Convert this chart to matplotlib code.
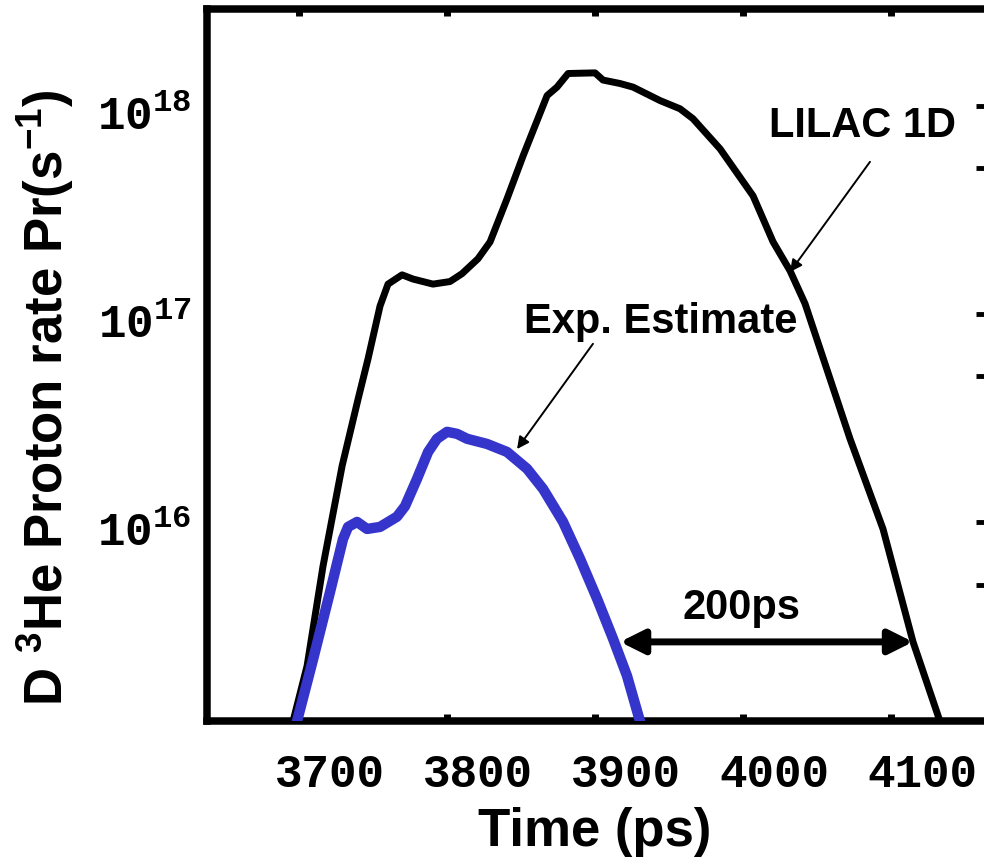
import matplotlib
matplotlib.use("Agg")
import matplotlib.pyplot as plt
import matplotlib.transforms as mtransforms
from matplotlib.ticker import FixedLocator, FixedFormatter, NullFormatter

# LILAC 1D simulated D-3He proton rate
lilac_t = [3695.9, 3705.4, 3716.2, 3729.1, 3739.9, 3746.6, 3754.7, 3760.1,
           3769.6, 3777.0, 3790.5, 3802.0, 3810.1, 3820.9, 3829.1, 3840.5,
           3851.4, 3860.8, 3867.6, 3874.3, 3881.8, 3900.0, 3905.4, 3916.9,
           3925.7, 3943.9, 3957.4, 3966.2, 3984.5, 4006.8, 4020.3, 4031.8,
           4041.9, 4072.3, 4094.6, 4114.9, 4133.1]
lilac_rate = [1.10e15, 2.03e15, 6.14e15, 1.86e16, 3.90e16, 6.08e16, 1.09e17, 1.39e17,
              1.54e17, 1.47e17, 1.39e17, 1.43e17, 1.56e17, 1.84e17, 2.22e17, 3.57e17,
              5.75e17, 8.47e17, 1.12e18, 1.23e18, 1.43e18, 1.44e18, 1.33e18, 1.28e18,
              1.23e18, 1.06e18, 9.68e17, 8.67e17, 6.21e17, 3.69e17, 2.22e17, 1.61e17,
              1.12e17, 2.51e16, 9.25e15, 2.65e15, 1.10e15]

# experimental estimate
exp_t = [3698.6, 3709.5, 3720.9, 3729.7, 3733.1, 3739.2, 3745.9, 3754.7,
         3766.2, 3771.6, 3779.7, 3787.2, 3793.2, 3800.0, 3806.8, 3813.5,
         3827.0, 3840.5, 3854.1, 3864.9, 3878.4, 3889.9, 3901.4, 3912.2,
         3921.6, 3930.4]
exp_rate = [1.10e15, 2.19e15, 4.60e15, 8.28e15, 9.46e15, 1.00e16, 9.25e15, 9.46e15,
            1.06e16, 1.19e16, 1.61e16, 2.17e16, 2.51e16, 2.71e16, 2.65e16, 2.51e16,
            2.37e16, 2.17e16, 1.80e16, 1.44e16, 1.00e16, 6.64e15, 4.27e15, 2.74e15,
            1.82e15, 1.10e15]

xticks = [3700, 3800, 3900, 4000, 4100]
xticklabels = ["3700", "3800", "3900", "4000", "4100"]
yticks = [1e16, 1e17, 1e18]
yticklabels = [r"$\mathregular{10^{16}}$", r"$\mathregular{10^{17}}$", r"$\mathregular{10^{18}}$"]
yminor = [5e15, 5e16, 5e17]

plt.rcParams["font.family"] = ["Liberation Sans", "DejaVu Sans"]
plt.rcParams["font.weight"] = "bold"

fig = plt.figure(figsize=(9.84, 8.62), dpi=100)
ax = fig.add_axes([0.2104, 0.1624, 0.8008, 0.826])

ax.plot(lilac_t, lilac_rate, color="black", lw=5, solid_joinstyle="round", zorder=3)
ax.plot(exp_t, exp_rate, color="#3535CC", lw=7.5, solid_joinstyle="round", zorder=4)

ax.set_yscale("log")
ax.set_xlim(3637.8, 4170.3)
ax.set_ylim(1.104e15, 2.92e18)

for sp in ax.spines.values():
    sp.set_linewidth(5.4)

ax.xaxis.set_major_locator(FixedLocator(xticks))
ax.xaxis.set_major_formatter(FixedFormatter(xticklabels))
ax.yaxis.set_major_locator(FixedLocator(yticks))
ax.yaxis.set_major_formatter(FixedFormatter(yticklabels))
ax.yaxis.set_minor_locator(FixedLocator(yminor))
ax.yaxis.set_minor_formatter(NullFormatter())
ax.xaxis.set_minor_locator(FixedLocator([]))

ax.tick_params(axis="x", which="major", direction="in", top=True, bottom=True,
               length=5, width=5, labelsize=33, pad=22)
ax.tick_params(axis="y", which="both", direction="in", left=False, right=True,
               length=14, width=3.5, labelsize=33, pad=11)

# the printed x labels sit a little right of their tick marks
xoff = mtransforms.ScaledTranslation(0.31, 0, fig.dpi_scale_trans)
for lab in ax.get_xticklabels():
    lab.set_fontfamily("Liberation Mono")
    lab.set_fontweight("bold")
    lab.set_transform(lab.get_transform() + xoff)
yoff = mtransforms.ScaledTranslation(0, -0.06, fig.dpi_scale_trans)
for lab in ax.get_yticklabels():
    lab.set_fontfamily("Liberation Mono")
    lab.set_fontweight("bold")
    lab.set_transform(lab.get_transform() + yoff)

ax.set_xlabel("Time (ps)", fontsize=38, fontweight="bold")
ax.xaxis.set_label_coords(0.492, -0.155)
ax.xaxis.label.set_va("center")
ax.set_ylabel(r"D $\mathregular{^{3}}$He Proton rate Pr(s$\mathregular{^{-1}}$)",
              fontsize=38, fontweight="bold")
ax.yaxis.set_label_coords(-0.2056, 0.456)
ax.yaxis.label.set_va("center")

# annotations
ax.text(4081, 8.1e17, "LILAC 1D", fontsize=30, fontweight="bold", ha="center", va="center")
ax.annotate("", xy=(4031.8, 1.59e17), xytext=(4085.8, 5.38e17),
            arrowprops=dict(arrowstyle="-|>", color="black", lw=1.4, mutation_scale=18,
                            shrinkA=0, shrinkB=0))
ax.text(3944.6, 9.25e16, "Exp. Estimate", fontsize=30, fontweight="bold", ha="center", va="center")
ax.annotate("", xy=(3847.3, 2.24e16), xytext=(3898.6, 7.18e16),
            arrowprops=dict(arrowstyle="-|>", color="black", lw=1.4, mutation_scale=18,
                            shrinkA=0, shrinkB=0))
ax.text(3999.3, 3.9e15, "200ps", fontsize=30, fontweight="bold", ha="center", va="center")
ax.annotate("", xy=(3916.9, 2.65e15), xytext=(4114.9, 2.65e15),
            arrowprops=dict(arrowstyle="<|-|>", color="black", lw=5, mutation_scale=36,
                            shrinkA=0, shrinkB=0), zorder=5)

fig.savefig("out.png", dpi=100)
